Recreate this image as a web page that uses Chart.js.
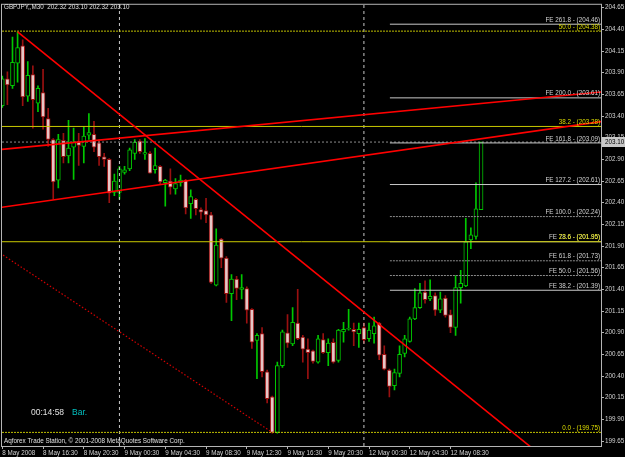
<!DOCTYPE html>
<html>
<head>
<meta charset="utf-8">
<script src="https://cdn.jsdelivr.net/npm/chart.js@4.4.0/dist/chart.umd.min.js"></script>
<style>
html, body { margin: 0; padding: 0; background: #000; }
canvas { display: block; }
</style>
</head>
<body>
<canvas id="chart" width="625" height="457"></canvas>
<script>
// GBPJPY M30, 8 May 2008 12:30 -> 12 May 2008 11:30 (one entry per bar)
const opens = [203.52, 203.83, 203.75, 204.01, 204.21, 203.63, 203.88, 203.55, 203.67, 203.37,
    203.13, 202.66, 203.12, 202.94, 203.04, 203.11, 203.05, 203.18, 203.19, 203.09,
    202.93, 202.90, 202.52, 202.52, 202.75, 202.79, 202.97, 203.11, 202.96, 202.97,
    202.78, 202.82, 202.63, 202.65, 202.56, 202.63, 202.66, 202.39, 202.44, 202.32,
    202.31, 202.26, 201.45, 201.98, 201.76, 201.35, 201.52, 201.40, 201.41, 201.17,
    200.81, 200.89, 200.45, 200.16, 199.75, 200.52, 200.90, 200.77, 201.01, 200.85,
    200.71, 200.69, 200.56, 200.82, 200.67, 200.79, 200.58, 200.91, 200.94, 200.94,
    200.89, 200.96, 200.83, 200.89, 201.01, 200.65, 200.47, 200.29, 200.43, 200.66,
    200.80, 201.06, 201.19, 201.37, 201.29, 201.33, 201.16, 201.30, 201.11, 200.96,
    201.42, 201.44, 201.97, 202.01, 202.32];
const highs = [203.86, 203.91, 204.31, 204.37, 204.28, 204.03, 203.98, 203.75, 203.94, 203.49,
    203.14, 203.19, 203.20, 203.35, 203.26, 203.20, 203.28, 203.43, 203.34, 203.13,
    202.97, 202.91, 202.73, 202.82, 202.82, 203.03, 203.13, 203.13, 203.14, 202.99,
    203.03, 202.83, 202.67, 202.79, 202.68, 202.72, 202.67, 202.55, 202.45, 202.34,
    202.45, 202.29, 202.10, 201.99, 201.78, 201.57, 201.55, 201.57, 201.43, 201.18,
    200.89, 200.96, 200.47, 200.17, 200.56, 200.93, 201.11, 201.19, 201.40, 200.87,
    200.83, 200.70, 200.87, 200.89, 200.83, 200.83, 200.94, 201.02, 201.17, 201.01,
    201.01, 201.01, 201.01, 201.08, 201.02, 200.75, 200.48, 200.48, 200.75, 200.87,
    201.08, 201.41, 201.47, 201.50, 201.51, 201.36, 201.37, 201.33, 201.16, 201.56,
    201.62, 202.22, 202.11, 202.63, 203.10];
const lows = [203.50, 203.53, 203.72, 203.79, 203.52, 203.57, 203.26, 203.45, 203.25, 203.05,
    202.44, 202.57, 202.86, 202.86, 202.67, 202.83, 202.86, 203.13, 202.99, 202.83,
    202.82, 202.40, 202.48, 202.44, 202.73, 202.77, 202.90, 202.97, 202.90, 202.74,
    202.74, 202.62, 202.36, 202.50, 202.50, 202.59, 202.27, 202.22, 202.26, 202.21,
    202.17, 201.47, 201.44, 201.65, 201.25, 201.04, 201.28, 201.29, 201.01, 200.72,
    200.37, 200.39, 200.09, 199.74, 199.74, 200.50, 200.73, 200.75, 200.82, 200.56,
    200.37, 200.55, 200.55, 200.66, 200.52, 200.55, 200.56, 200.79, 200.93, 200.75,
    200.73, 200.78, 200.80, 200.78, 200.59, 200.47, 200.16, 200.24, 200.39, 200.62,
    200.79, 201.05, 201.18, 201.24, 201.27, 201.10, 201.13, 201.08, 200.90, 200.87,
    201.24, 201.43, 201.87, 201.98, 202.32];
const closes = [203.83, 203.76, 204.02, 204.19, 203.62, 203.87, 203.59, 203.72, 203.39, 203.13,
    202.64, 203.13, 202.93, 203.03, 203.10, 203.06, 203.17, 203.21, 203.04, 202.93,
    202.90, 202.51, 202.65, 202.79, 202.78, 203.01, 203.10, 202.99, 202.98, 202.74,
    202.83, 202.64, 202.66, 202.58, 202.62, 202.66, 202.34, 202.47, 202.33, 202.29,
    202.26, 201.48, 201.91, 201.76, 201.35, 201.52, 201.41, 201.42, 201.16, 200.79,
    200.87, 200.45, 200.14, 199.75, 200.52, 200.91, 200.78, 201.02, 200.83, 200.71,
    200.67, 200.57, 200.83, 200.67, 200.78, 200.56, 200.93, 200.94, 200.95, 200.91,
    200.94, 200.82, 200.93, 200.98, 200.64, 200.48, 200.28, 200.44, 200.65, 200.83,
    201.06, 201.19, 201.36, 201.28, 201.32, 201.16, 201.29, 201.10, 200.96, 201.42,
    201.47, 201.95, 202.03, 202.33, 203.10];

// time axis labels (bar index -> label)
const xTickBars = [0, 8, 16, 24, 32, 40, 48, 56, 64, 72, 80, 88];
const xTickLabels = ['8 May 2008', '8 May 16:30', '8 May 20:30', '9 May 00:30', '9 May 04:30',
    '9 May 08:30', '9 May 12:30', '9 May 16:30', '9 May 20:30', '12 May 00:30',
    '12 May 04:30', '12 May 08:30'];
const yTicks = [204.65, 204.40, 204.15, 203.90, 203.65, 203.40, 203.15, 202.90, 202.65, 202.40,
    202.15, 201.90, 201.65, 201.40, 201.15, 200.90, 200.65, 200.40, 200.15, 199.90, 199.65];

// Fibonacci expansion levels
const feLevels = [261.8, 200.0, 161.8, 127.2, 100.0, 78.6, 61.8, 50.0, 38.2];
const fePrices = [204.46, 203.61, 203.09, 202.61, 202.24, 201.95, 201.73, 201.56, 201.39];
const feDotted = [false, false, false, false, true, false, true, true, false];
const feStartBar = 76.1;

// Fibonacci retracement levels
const fibLevels = [50.0, 38.2, 23.6, 0.0];
const fibPrices = [204.38, 203.28, 201.95, 199.75];
const fibDotted = [true, false, false, true];

// trend lines as [bar, price] pairs
const trendDown = [[3, 204.37], [104, 199.57]];
const channelUpper = [[-1, 203.01], [118, 203.68]];
const channelLower = [[-1, 202.34], [118, 203.34]];
const trendDotted = [[-1, 201.84], [53, 199.75]];

const daySeparators = [23, 71];
const bid = 203.10;
const symbol = 'GBPJPY,,M30';

const xMin = -0.06, xMax = 117.55;
const yMin = 199.593, yMax = 204.684;

const FONT = '"Liberation Sans", Arial, sans-serif';
const bars = opens.map((o, i) => i);
const isUp = opens.map((o, i) => closes[i] >= o);

const upColor = '#00c800';
const downColor = '#9a1010';
const downFill = '#e6c6c6';

function segment(pts) {
    return pts.map(p => ({ x: p[0], y: p[1] }));
}

function lineSet(data, color, width, dash, order) {
    return {
        type: 'line',
        data: data,
        borderColor: color,
        borderWidth: width,
        borderDash: dash,
        pointRadius: 0,
        tension: 0,
        fill: false,
        order: order
    };
}

const datasets = [];

// candle bodies
datasets.push({
    type: 'bar',
    data: bars.map(i => ({ x: i, y: [Math.min(opens[i], closes[i]), Math.max(opens[i], closes[i])] })),
    backgroundColor: bars.map(i => isUp[i] ? '#000000' : downFill),
    borderColor: bars.map(i => isUp[i] ? upColor : downColor),
    borderWidth: 1,
    borderSkipped: false,
    barThickness: 4,
    grouped: false,
    order: 2
});
// wicks
datasets.push({
    type: 'bar',
    data: bars.map(i => ({ x: i, y: [lows[i], highs[i]] })),
    backgroundColor: bars.map(i => isUp[i] ? upColor : downColor),
    borderWidth: 0,
    barThickness: 1,
    grouped: false,
    order: 3
});

// retracement levels (full width)
fibPrices.forEach((p, i) => {
    datasets.push(lineSet([{ x: xMin, y: p }, { x: xMax, y: p }],
        fibDotted[i] ? '#c0c000' : '#c8c800', 1, fibDotted[i] ? [2, 1] : [], 1));
});
// expansion levels
fePrices.forEach((p, i) => {
    datasets.push(lineSet([{ x: feStartBar, y: p }, { x: xMax, y: p }],
        feDotted[i] ? '#8c8c8c' : '#c8c8c8', 1, feDotted[i] ? [2, 1] : [], 1));
});
// bid line
datasets.push(lineSet([{ x: xMin, y: bid }, { x: xMax, y: bid }], '#8c8c8c', 1, [2, 2], 1));
// day separators
daySeparators.forEach(b => {
    datasets.push(lineSet([{ x: b, y: yMin }, { x: b, y: yMax }], '#c8c8c8', 1, [3, 3], 1));
});
// trend lines
datasets.push(lineSet(segment(trendDown), '#ff0000', 1.6, [], 0));
datasets.push(lineSet(segment(channelUpper), '#ff0000', 1.6, [], 0));
datasets.push(lineSet(segment(channelLower), '#ff0000', 1.6, [], 0));
datasets.push(lineSet(segment(trendDotted), '#d00000', 1.2, [1.5, 2], 0));

const overlay = {
    id: 'overlay',
    afterDatasetsDraw(chart) {
        const { ctx, chartArea: a, scales: { y } } = chart;
        ctx.save();
        // frame
        ctx.strokeStyle = '#b4b4b4';
        ctx.lineWidth = 1;
        ctx.strokeRect(a.left - 0.5, a.top - 0.5, a.right - a.left + 1, a.bottom - a.top + 1);

        ctx.font = '6.3px ' + FONT;
        ctx.textAlign = 'right';
        ctx.textBaseline = 'bottom';
        fePrices.forEach((p, i) => {
            ctx.fillStyle = '#d2d2d2';
            ctx.fillText('FE ' + feLevels[i].toFixed(1) + ' - (' + p.toFixed(2) + ')', a.right - 1, y.getPixelForValue(p) - 1);
        });
        fibPrices.forEach((p, i) => {
            ctx.fillStyle = '#dcdc00';
            ctx.fillText(fibLevels[i].toFixed(1) + ' - (' + p.toFixed(2) + ')', a.right - 1, y.getPixelForValue(p) - 1);
        });

        // bid price label
        const by = Math.round(y.getPixelForValue(bid));
        ctx.fillStyle = '#c8c8c8';
        ctx.fillRect(a.right + 1, by - 5, 23, 10);
        ctx.fillStyle = '#000000';
        ctx.textAlign = 'left';
        ctx.textBaseline = 'middle';
        ctx.fillText(bid.toFixed(2), a.right + 4, by);

        // header
        const last = opens.length - 1;
        ctx.fillStyle = '#e0e0e0';
        ctx.fillText(symbol + '  ' + opens[last].toFixed(2) + ' ' + highs[last].toFixed(2) + ' ' +
            lows[last].toFixed(2) + ' ' + closes[last].toFixed(2), 4, 7);
        ctx.fillText('Aqforex Trade Station, \u00a9 2001-2008 MetaQuotes Software Corp.', 4, 441);

        ctx.font = '8.5px ' + FONT;
        ctx.fillText('00:14:58', 31, 413);
        ctx.fillStyle = '#00c0c0';
        ctx.fillText('Bar.', 72, 413);
        ctx.restore();
    }
};

new Chart(document.getElementById('chart'), {
    type: 'bar',
    data: { datasets: datasets },
    options: {
        responsive: false,
        animation: false,
        layout: { padding: { left: 2, top: 3, right: 0, bottom: 0 } },
        plugins: { legend: { display: false }, tooltip: { enabled: false }, title: { display: false } },
        scales: {
            x: {
                type: 'linear',
                offset: false,
                min: xMin,
                max: xMax,
                grid: { offset: false, drawOnChartArea: false, drawTicks: true, tickLength: 3, color: '#b4b4b4' },
                border: { display: false },
                afterBuildTicks: s => { s.ticks = xTickBars.map(v => ({ value: v })); },
                afterFit: s => { s.height = 11; },
                ticks: {
                    autoSkip: false,
                    maxRotation: 0,
                    align: 'start',
                    padding: 0,
                    color: '#d2d2d2',
                    font: { family: FONT, size: 6.3 },
                    callback: (v, i) => xTickLabels[i]
                }
            },
            y: {
                type: 'linear',
                position: 'right',
                beginAtZero: false,
                min: yMin,
                max: yMax,
                grid: { drawOnChartArea: false, drawTicks: true, tickLength: 3, color: '#b4b4b4' },
                border: { display: false },
                afterBuildTicks: s => { s.ticks = yTicks.map(v => ({ value: v })); },
                afterFit: s => { s.width = 24; },
                ticks: {
                    padding: 1,
                    color: '#d2d2d2',
                    font: { family: FONT, size: 6.3 },
                    callback: v => v.toFixed(2)
                }
            }
        }
    },
    plugins: [overlay]
});
</script>
</body>
</html>
